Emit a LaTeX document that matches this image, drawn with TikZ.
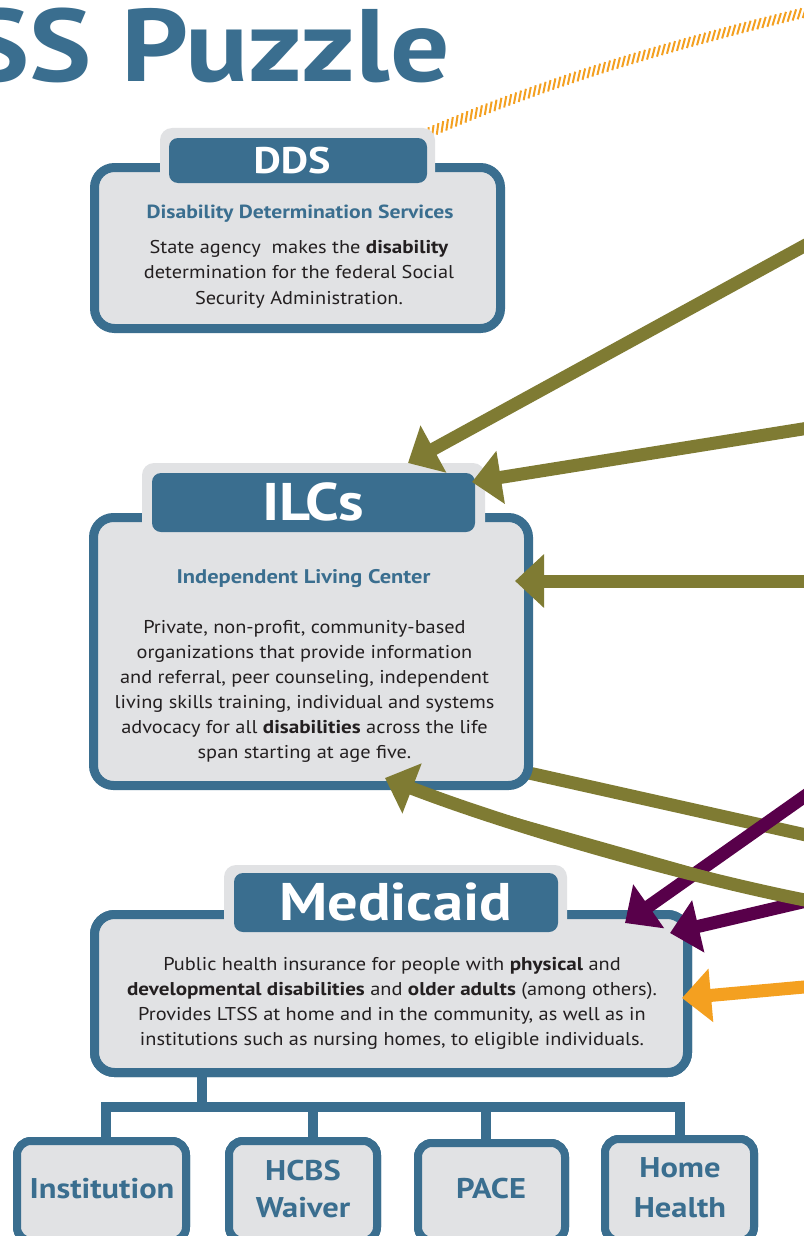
\documentclass[tikz,border=0pt]{standalone}
\usepackage{fontspec}
\setmainfont{PT Sans}[FakeStretch=1.1, BoldFeatures={FakeStretch=1.14}]
\usetikzlibrary{arrows.meta,decorations.markings}
\definecolor{ltblue}{HTML}{3A6E8F}
\definecolor{boxgray}{HTML}{E1E2E4}
\definecolor{olivearrow}{HTML}{7F7B33}
\definecolor{plumarrow}{HTML}{58004A}
\definecolor{orangearrow}{HTML}{F4A020}
\definecolor{txtdark}{HTML}{231F20}
\begin{document}
\begin{tikzpicture}[x=1pt,y=-1pt,
  panel/.style={draw=ltblue, fill=boxgray, line width=9pt, rounded corners=20pt, inner sep=0pt, outer sep=0pt},
  smallpanel/.style={draw=ltblue, fill=boxgray, line width=8pt, rounded corners=14pt, inner sep=0pt, outer sep=0pt},
  tabbg/.style={fill=boxgray, rounded corners=12pt, inner sep=0pt, outer sep=0pt},
  tabfg/.style={fill=ltblue, rounded corners=9pt, inner sep=0pt, outer sep=0pt},
  tablabel/.style={text=white, font=\bfseries, inner sep=0pt, anchor=base},
  subhead/.style={text=ltblue, font=\fontsize{19}{22}\selectfont\bfseries, inner sep=0pt, anchor=base},
  bodytext/.style={text=txtdark, font=\fontsize{18.5}{25}\selectfont, align=center, inner sep=0pt, anchor=base},
  boxlabel/.style={text=ltblue, font=\fontsize{28.5}{37}\selectfont\bfseries, align=center, inner sep=0pt, anchor=base},
  tree/.style={draw=ltblue, line width=10pt, line join=miter},
  arrowbase/.style={line width=13pt, -{Triangle[length=29pt,width=52pt]}},
  olivelink/.style={arrowbase, draw=olivearrow, fill=olivearrow},
  plumlink/.style={arrowbase, draw=plumarrow, fill=plumarrow},
  orangelink/.style={arrowbase, draw=orangearrow, fill=orangearrow},
  hatchline/.style={decorate, decoration={markings,
      mark=between positions 0 and 1 step 5.2pt with {\draw[orangearrow, line width=2pt] (-3pt,-5pt) -- (3pt,5pt);}}}
]
\useasboundingbox (0,0) rectangle (803,1236);
\fill[white] (0,0) rectangle (803,1236);

% title
\node[anchor=base east, inner sep=0pt, text=ltblue, font=\fontsize{103}{103}\selectfont\bfseries] (title) at (450,82) {LTSS Puzzle};

% hatched curve
\coordinate (hatchA) at (428,133);
\coordinate (hatchB) at (815,10);
\path[hatchline] (hatchA) .. controls (550,80) and (680,42) .. (hatchB);

% line leaving ILC (behind panel)
\coordinate (lineA) at (520,771);
\coordinate (lineB) at (815,837);
\draw[olivearrow, line width=13pt] (lineA) -- (lineB);

% tree below Medicaid
\coordinate (stemx) at (202,0);
\coordinate (barY) at (0,1107);
\coordinate (dropA) at (106,0);
\coordinate (dropB) at (313,0);
\coordinate (dropC) at (486,0);
\coordinate (dropD) at (680,0);

\node[smallpanel, minimum width=169pt, minimum height=100pt] (inst) at (101.5,1191) {};
\node[smallpanel, minimum width=148pt, minimum height=100pt] (hcbs) at (303,1191) {};
\node[smallpanel, minimum width=147pt, minimum height=98pt] (pace) at (491.5,1192) {};
\node[smallpanel, minimum width=149pt, minimum height=102pt] (home) at (679.5,1190) {};
\node[panel, minimum width=593pt, minimum height=158pt] (med) at (391,993.5) {};

\draw[tree] (med.south -| stemx) ++(0,-10) -- (barY -| stemx);
\draw[tree] (inst.north -| dropA) ++(0,-4) |- (barY -| dropD) -- ([yshift=-4pt]home.north -| dropD);
\draw[tree] (barY -| dropB) -- ([yshift=-4pt]hcbs.north -| dropB);
\draw[tree] (barY -| dropC) -- ([yshift=-4pt]pace.north -| dropC);
% panels again on top of the connector ends
\node[smallpanel, minimum width=169pt, minimum height=100pt] (instTop) at (101.5,1191) {};
\node[smallpanel, minimum width=148pt, minimum height=100pt] (hcbsTop) at (303,1191) {};
\node[smallpanel, minimum width=147pt, minimum height=98pt] (paceTop) at (491.5,1192) {};
\node[smallpanel, minimum width=149pt, minimum height=102pt] (homeTop) at (679.5,1190) {};
\node[panel, minimum width=593pt, minimum height=158pt] (medTop) at (391,993.5) {};

% DDS
\node[panel, minimum width=406pt, minimum height=161pt] (dds) at (297.5,248) {};
\node[tabbg, minimum width=275pt, minimum height=57pt] (ddstabbg) at (297.5,156.5) {};
\node[tabfg, minimum width=258pt, minimum height=45pt] (ddstab) at (298,160.5) {};
\node[tablabel, font=\fontsize{37}{37}\selectfont\bfseries] (ddslabel) at (292,173) {DDS};
\node[subhead] (ddssub) at (300,218) {Disability Determination Services};
\node[bodytext, font=\fontsize{18.5}{25.5}\selectfont] (ddsbody) at (299,304) {State agency\ \ makes the \textbf{disability}\\determination for the federal Social\\Security Administration.};

% ILC
\node[panel, minimum width=435pt, minimum height=268pt] (ilc) at (311,651.5) {};
\node[tabbg, minimum width=343pt, minimum height=77pt] (ilctabbg) at (313.5,501.5) {};
\node[tabfg, minimum width=323pt, minimum height=59pt] (ilctab) at (313.5,502.5) {};
\node[tablabel, font=\fontsize{53}{53}\selectfont\bfseries] (ilclabel) at (313,520) {ILCs};
\node[subhead, font=\fontsize{19.7}{22}\selectfont\bfseries] (ilcsub) at (303.5,583) {Independent Living Center};
\node[bodytext] (ilcbody) at (304.5,758) {Private, non-profit, community-based\\organizations that provide information\\and referral, peer counseling, independent\\living skills training, individual and systems\\advocacy for all \textbf{disabilities} across the life\\span starting at age five.};

% Medicaid
\node[tabbg, minimum width=343pt, minimum height=75pt] (medtabbg) at (395.5,902.5) {};
\node[tabfg, minimum width=324pt, minimum height=59pt] (medtab) at (396,902.5) {};
\node[tablabel, font=\fontsize{53}{53}\selectfont\bfseries] (medlabel) at (395.5,920) {Medicaid};
\node[bodytext] (medbody) at (392,1045) {Public health insurance for people with \textbf{physical} and\\\textbf{developmental disabilities} and \textbf{older adults} (among others).\\Provides LTSS at home and in the community, as well as in\\institutions such as nursing homes, to eligible individuals.};

% bottom labels
\node[boxlabel] (instlabel) at (102,1198) {Institution};
\node[boxlabel] (hcbslabel) at (303,1217) {HCBS\\Waiver};
\node[boxlabel] (pacelabel) at (491,1198) {PACE};
\node[boxlabel, font=\fontsize{28.5}{40}\selectfont\bfseries] (homelabel) at (680,1217) {Home\\Health};

% arrows
\coordinate (p1s) at (815,789);
\coordinate (p1e) at (625,923);
\coordinate (p2s) at (815,899);
\coordinate (p2e) at (670,933);
\draw[plumlink] (p1s) -- (p1e);
\draw[plumlink] (p2s) -- (p2e);

\coordinate (o1s) at (815,986);
\coordinate (o1e) at (682,998);
\draw[orangelink] (o1s) -- (o1e);

\coordinate (a1s) at (815,240);
\coordinate (a1e) at (408,463);
\coordinate (a2s) at (815,427);
\coordinate (a2e) at (472,482);
\coordinate (a3s) at (815,581);
\coordinate (a3e) at (515,581);
\coordinate (a5s) at (815,902);
\coordinate (a5e) at (385,778);
\draw[olivelink] (a1s) -- (a1e);
\draw[olivelink] (a2s) -- (a2e);
\draw[olivelink] (a3s) -- (a3e);
\draw[olivelink] (a5s) .. controls (700,880) and (520,830) .. (a5e);
\end{tikzpicture}
\end{document}
